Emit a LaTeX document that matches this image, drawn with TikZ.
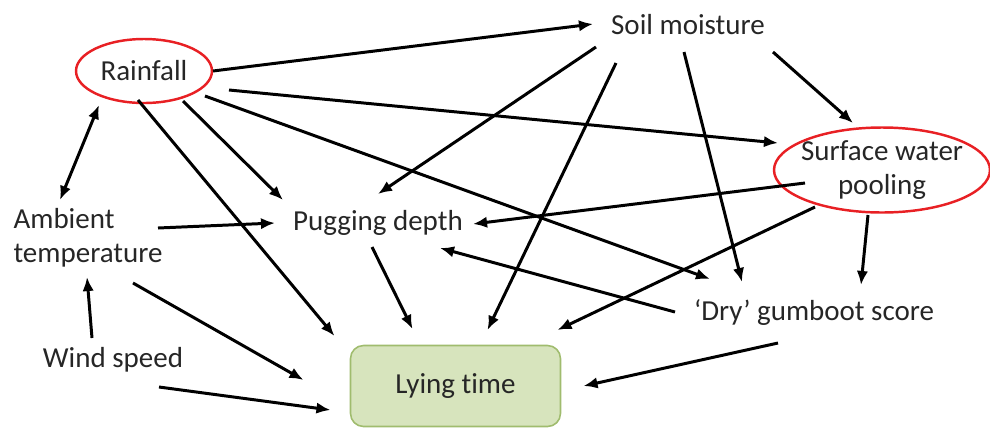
\documentclass[tikz,border=0pt]{standalone}
\usepackage{fontspec}
\setmainfont[Ligatures=NoCommon]{Carlito}
\usetikzlibrary{arrows.meta}
\definecolor{lyingfill}{RGB}{215,228,189}
\definecolor{lyingline}{RGB}{160,188,110}
\definecolor{ringred}{RGB}{232,32,36}

\begin{document}
\begin{tikzpicture}[%
      x=0.02cm, y=-0.02cm,
      every node/.style={font=\fontsize{16.5}{19.5}\selectfont, text=black!85},
      factor/.style={inner sep=0pt},
      outcome/.style={draw=lyingline, fill=lyingfill, line width=0.9pt,
                      rounded corners=0.26cm, minimum width=4.2cm, minimum height=1.62cm},
      ring/.style={draw=ringred, line width=1.4pt},
      arr/.style={-{Latex[length=8pt,width=6.5pt]}, line width=1.7pt},
      ]
      \useasboundingbox (0,0) rectangle (990,427);

      % factors
      \node[factor] (rain) at (144,71) {Rainfall};
      \node[factor] (soil) at (688,25) {Soil moisture};
      \node[factor, align=center] (pool) at (882,170) {Surface water\\pooling};
      \node[factor, align=left] (amb) at (88,238) {Ambient\\temperature};
      \node[factor] (pug) at (378,223) {Pugging depth};
      \node[factor] (wind) at (113,360) {Wind speed};
      \node[factor] (dry) at (814,313) {`Dry' gumboot score};
      \node[outcome] (lying) at (455.5,386) {Lying time};

      % red rings
      \draw[ring] (rain.center) ellipse [x radius=68, y radius=32];
      \draw[ring] (pool.center) ellipse [x radius=108, y radius=42.5];

      % from rainfall
      \draw[arr] ([shift={(69,0)}]rain.center) -- ([shift={(-95,-1)}]soil.center);
      \draw[arr] ([shift={(85,19)}]rain.center) -- ([shift={(-104,-27)}]pool.center);
      \draw[arr] ([shift={(61,25)}]rain.center) -- ([shift={(-104,-34)}]dry.center);
      \draw[arr] ([shift={(39,30)}]rain.center) -- ([shift={(-95,-23)}]pug.center);
      \draw[arr] ([shift={(-6,29)}]rain.center) -- ([shift={(-121,-50)}]lying.center);
      \draw[{Latex[length=8pt,width=6.5pt]}-{Latex[length=8pt,width=6.5pt]}, line width=1.7pt]
            ([shift={(-45,34)}]rain.center) -- ([shift={(-28,-38)}]amb.center);

      % from soil moisture
      \draw[arr] ([shift={(-92,22)}]soil.center) -- ([shift={(0,-29)}]pug.center);
      \draw[arr] ([shift={(-72,38)}]soil.center) -- ([shift={(32,-56)}]lying.center);
      \draw[arr] ([shift={(-4,27)}]soil.center) -- ([shift={(-72,-31)}]dry.center);
      \draw[arr] ([shift={(85,27)}]soil.center) -- ([shift={(-29,-47)}]pool.center);

      % from surface water pooling
      \draw[arr] ([shift={(-77,13)}]pool.center) -- ([shift={(95,1)}]pug.center);
      \draw[arr] ([shift={(-67,37)}]pool.center) -- ([shift={(102,-56)}]lying.center);
      \draw[arr] ([shift={(-14,45)}]pool.center) -- ([shift={(47,-28)}]dry.center);

      % from dry gumboot score
      \draw[arr] ([shift={(-139,-1)}]dry.center) -- ([shift={(62,25)}]pug.center);
      \draw[arr] ([shift={(-36,30)}]dry.center) -- ([shift={(128,0)}]lying.center);

      % the rest
      \draw[arr] ([shift={(-6,24)}]pug.center) -- ([shift={(-43,-57)}]lying.center);
      \draw[arr] ([shift={(70,-10)}]amb.center) -- ([shift={(-103,0)}]pug.center);
      \draw[arr] ([shift={(45,45)}]amb.center) -- ([shift={(-152,-6)}]lying.center);
      \draw[arr] ([shift={(-21,-22)}]wind.center) -- ([shift={(-1,39)}]amb.center);
      \draw[arr] ([shift={(46,27)}]wind.center) -- ([shift={(-125,24)}]lying.center);
\end{tikzpicture}
\end{document}
